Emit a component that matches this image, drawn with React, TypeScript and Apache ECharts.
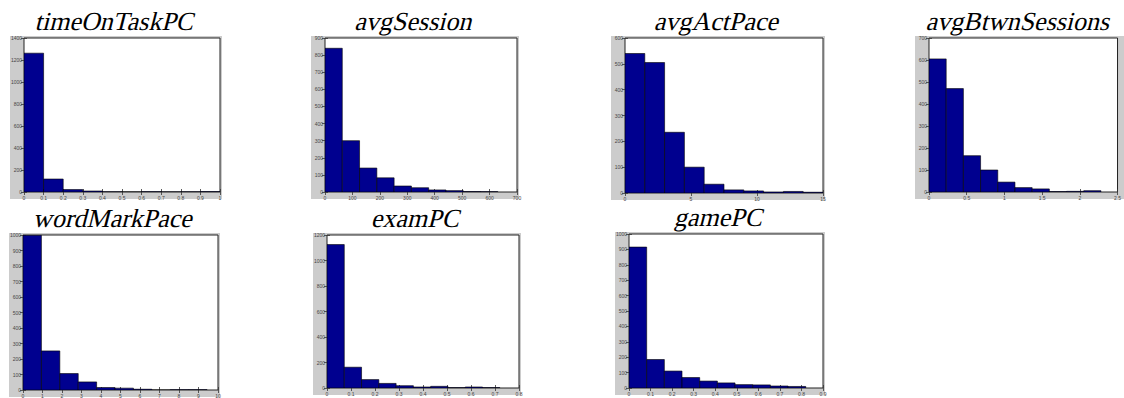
import React, { useEffect, useRef } from "react";
import * as echarts from "echarts";

// ---- data ----
const panelNames = ["timeOnTaskPC", "avgSession", "avgActPace", "avgBtwnSessions", "wordMarkPace", "examPC", "gamePC"];

const timeOnTaskEdges = [0, 0.1, 0.2, 0.3, 0.4, 0.5, 0.6, 0.7, 0.8, 0.9, 1.0];
const timeOnTaskCounts = [1262, 118, 22, 9, 2, 1, 3, 1, 2, 4];

const avgSessionEdges = [0, 63, 126, 189, 252, 315, 378, 441, 504, 567, 630];
const avgSessionCounts = [840, 300, 140, 83, 35, 25, 12, 8, 3, 2];

const avgActPaceEdges = [0, 1.5, 3, 4.5, 6, 7.5, 9, 10.5, 12, 13.5, 15];
const avgActPaceCounts = [540, 505, 235, 100, 34, 12, 8, 4, 6, 3];

const avgBtwnEdges = [0, 0.228, 0.456, 0.684, 0.912, 1.14, 1.368, 1.596, 1.824, 2.052, 2.28];
const avgBtwnCounts = [605, 470, 165, 100, 45, 20, 14, 2, 3, 6];

const wordMarkEdges = [0, 0.944, 1.888, 2.832, 3.776, 4.72, 5.664, 6.608, 7.552, 8.496, 9.44];
const wordMarkCounts = [998, 252, 106, 52, 16, 12, 5, 0, 2, 2];

const examEdges = [0, 0.072, 0.144, 0.216, 0.288, 0.36, 0.432, 0.504, 0.576, 0.648, 0.72];
const examCounts = [1125, 163, 66, 36, 18, 8, 13, 3, 8, 3];

const gameEdges = [0, 0.082, 0.164, 0.246, 0.328, 0.41, 0.492, 0.574, 0.656, 0.738, 0.82];
const gameCounts = [915, 185, 110, 68, 45, 33, 22, 20, 13, 10];

const panelEdges = [timeOnTaskEdges, avgSessionEdges, avgActPaceEdges, avgBtwnEdges, wordMarkEdges, examEdges, gameEdges];
const panelCounts = [timeOnTaskCounts, avgSessionCounts, avgActPaceCounts, avgBtwnCounts, wordMarkCounts, examCounts, gameCounts];

// axis ranges
const xMaxes = [1, 700, 15, 2.5, 10, 0.8, 0.9];
const xIntervals = [0.1, 100, 5, 0.5, 1, 0.1, 0.1];
const yMaxes = [1400, 900, 600, 700, 1000, 1200, 1000];
const yIntervals = [200, 100, 100, 100, 100, 200, 100];

// ---- layout (plot-area boxes) ----
const plots = [
  { l: 24, t: 38, w: 196, h: 154 },
  { l: 325, t: 38, w: 192, h: 154 },
  { l: 625, t: 38, w: 198, h: 155 },
  { l: 929, t: 38, w: 193, h: 154 },
  { l: 23, t: 235, w: 195, h: 155 },
  { l: 327, t: 235, w: 192, h: 153 },
  { l: 629, t: 234, w: 194, h: 154 },
];

const BAR = "#00008f";
const GRAY = "#cccccc";
const SANS = "'Liberation Sans', Arial, sans-serif";

const fmt = (v: number) => String(Math.round(v * 1000) / 1000);

export default function App() {
  const ref = useRef<HTMLDivElement>(null);
  useEffect(() => {
    if (!ref.current) return;
    const chart = echarts.init(ref.current, undefined, { renderer: "svg" });
    const grids: any[] = [];
    const xAxes: any[] = [];
    const yAxes: any[] = [];
    const series: any[] = [];
    const graphics: any[] = [];
    const labelStyle = { fontSize: 5, color: "#444", fontFamily: SANS, formatter: fmt };
    plots.forEach((p, i) => {
      const fx = p.l - 14;
      const fw = p.w + 16;
      graphics.push({
        type: "rect",
        z: -10,
        shape: { x: fx, y: p.t - 2, width: fw, height: p.h + 9 },
        style: { fill: GRAY },
      });
      graphics.push({
        type: "text",
        z: 10,
        x: fx + fw / 2,
        y: p.t - 17,
        skewX: -0.25,
        style: {
          text: panelNames[i],
          fontFamily: "Liberation Serif",
          fontSize: 26,
          fill: "#000",
          textAlign: "center",
          textVerticalAlign: "middle",
        },
      });
      grids.push({
        left: p.l,
        top: p.t,
        width: p.w,
        height: p.h,
        show: true,
        backgroundColor: "#fff",
        borderColor: "#222",
        borderWidth: 1,
      });
      const common = {
        type: "value",
        gridIndex: i,
        splitLine: { show: false },
        axisLine: { show: false },
        axisTick: { show: true, inside: true, length: 3, lineStyle: { color: "#333", width: 0.8 } },
      };
      xAxes.push({
        ...common,
        position: "bottom",
        min: 0,
        max: xMaxes[i],
        interval: xIntervals[i],
        axisLabel: { ...labelStyle, margin: 3, showMinLabel: true, showMaxLabel: true },
      });
      xAxes.push({
        ...common,
        position: "top",
        min: 0,
        max: xMaxes[i],
        interval: xIntervals[i],
        axisLabel: { show: false },
      });
      yAxes.push({
        ...common,
        position: "left",
        min: 0,
        max: yMaxes[i],
        interval: yIntervals[i],
        axisLabel: { ...labelStyle, margin: 2 },
      });
      yAxes.push({
        ...common,
        position: "right",
        min: 0,
        max: yMaxes[i],
        interval: yIntervals[i],
        axisLabel: { show: false },
      });
      const edges = panelEdges[i];
      const counts = panelCounts[i];
      const data = counts.map((c, k) => [edges[k], edges[k + 1], c]);
      series.push({
        type: "custom",
        xAxisIndex: 2 * i,
        yAxisIndex: 2 * i,
        encode: { x: [0, 1], y: 2 },
        data,
        clip: true,
        renderItem: (params: any, api: any) => {
          const a = api.coord([api.value(0), api.value(2)]);
          const b = api.coord([api.value(1), 0]);
          return {
            type: "rect",
            shape: { x: a[0], y: a[1], width: b[0] - a[0], height: b[1] - a[1] },
            style: { fill: BAR, stroke: "#000", lineWidth: 0.6 },
          };
        },
      });
    });
    chart.setOption({
      animation: false,
      backgroundColor: "#fff",
      grid: grids,
      xAxis: xAxes,
      yAxis: yAxes,
      series,
      graphic: graphics,
    });
    return () => chart.dispose();
  }, []);
  return <div ref={ref} style={{ position: "fixed", left: 0, top: 0, width: 1124, height: 398 }} />;
}
